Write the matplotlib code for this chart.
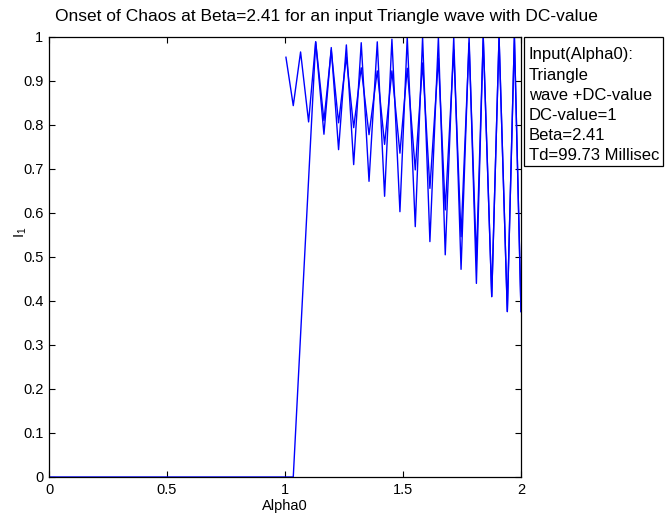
import matplotlib
matplotlib.use("Agg")
import matplotlib.pyplot as plt
from matplotlib.patches import Rectangle

plt.rcParams['font.family'] = ['Liberation Sans', 'DejaVu Sans']
plt.rcParams['mathtext.fontset'] = 'custom'
plt.rcParams['mathtext.rm'] = 'Liberation Sans'
plt.rcParams['mathtext.default'] = 'regular'

# first trace: triangle input sweep from Alpha0 = 1
alpha_a = [1.004, 1.035, 1.066, 1.100, 1.130, 1.165, 1.196, 1.227, 1.260, 1.291,
           1.323, 1.356, 1.391, 1.422, 1.453, 1.487, 1.518, 1.552, 1.583, 1.614,
           1.650, 1.679, 1.715, 1.746, 1.780, 1.811, 1.840, 1.876, 1.907, 1.942,
           1.972, 2.000]
i1_a = [0.954, 0.844, 0.966, 0.807, 0.989, 0.779, 0.976, 0.744, 0.982, 0.710,
        0.987, 0.672, 0.989, 0.638, 0.995, 0.603, 1.000, 0.569, 1.000, 0.535,
        1.000, 0.505, 1.000, 0.472, 1.000, 0.440, 1.000, 0.410, 1.000, 0.376,
        1.000, 0.376]

# second trace: zero until the onset, then follows the first one
alpha_b = [0.000, 1.035, 1.130, 1.165, 1.196, 1.227, 1.260, 1.291, 1.323, 1.356,
           1.391, 1.422, 1.453, 1.487, 1.518, 1.552, 1.583, 1.614, 1.650, 1.679,
           1.715, 1.746, 1.780, 1.811, 1.840, 1.876, 1.907, 1.942, 1.972, 2.000]
i1_b = [0.000, 0.000, 0.989, 0.810, 0.970, 0.805, 0.955, 0.794, 0.930, 0.778,
        0.923, 0.756, 0.923, 0.736, 0.929, 0.698, 0.941, 0.656, 0.952, 0.607,
        0.971, 0.546, 0.986, 0.493, 1.000, 0.410, 1.000, 0.376, 1.000, 0.376]

x_ticks = [0, 0.5, 1, 1.5, 2]
x_tick_labels = ['0', '0.5', '1', '1.5', '2']
y_ticks = [0, 0.1, 0.2, 0.3, 0.4, 0.5, 0.6, 0.7, 0.8, 0.9, 1]
y_tick_labels = ['0', '0.1', '0.2', '0.3', '0.4', '0.5', '0.6', '0.7', '0.8', '0.9', '1']

info_lines = ['Input(Alpha0):', 'Triangle', 'wave +DC-value', 'DC-value=1',
              'Beta=2.41', 'Td=99.73 Millisec']

W, H = 671, 520
fig = plt.figure(figsize=(W / 100, H / 100), dpi=100)
ax = fig.add_axes([49 / W, 1 - 477 / H, (521 - 49) / W, (477 - 37) / H])

ax.plot(alpha_b, i1_b, color=(0, 0, 1), lw=1)
ax.plot(alpha_a, i1_a, color=(0, 0, 1), lw=1)

ax.set_xlim(0, 2)
ax.set_ylim(0, 1)
ax.set_xticks(x_ticks)
ax.set_xticklabels(x_tick_labels)
ax.set_yticks(y_ticks)
ax.set_yticklabels(y_tick_labels)
ax.tick_params(direction='in', length=4, width=0.8, labelsize=10.5,
               top=True, right=True, pad=4)
for s in ax.spines.values():
    s.set_linewidth(0.9)

ax.set_xlabel('Alpha0', fontsize=10.5, labelpad=2)
ax.set_ylabel('I$_1$', fontsize=10.5)
ax.yaxis.set_label_coords(-20 / (521 - 49), (477 - 232) / (477 - 37))
fig.text(55 / W, 1 - 16 / H,
         'Onset of Chaos at Beta=2.41 for an input Triangle wave with DC-value',
         ha='left', va='center', fontsize=12.5)

# parameter box on the right
box_l, box_t, box_r, box_b = 524, 37, 663, 166
fig.patches.append(Rectangle((box_l / W, 1 - box_b / H), (box_r - box_l) / W,
                             (box_b - box_t) / H, transform=fig.transFigure,
                             facecolor='white', edgecolor='black', lw=0.9,
                             zorder=3))
for k, line in enumerate(info_lines):
    fig.text(529 / W, 1 - (55 + 20.2 * k) / H, line, ha='left', va='center',
             fontsize=12, zorder=4)

fig.savefig('out.png', dpi=100)
